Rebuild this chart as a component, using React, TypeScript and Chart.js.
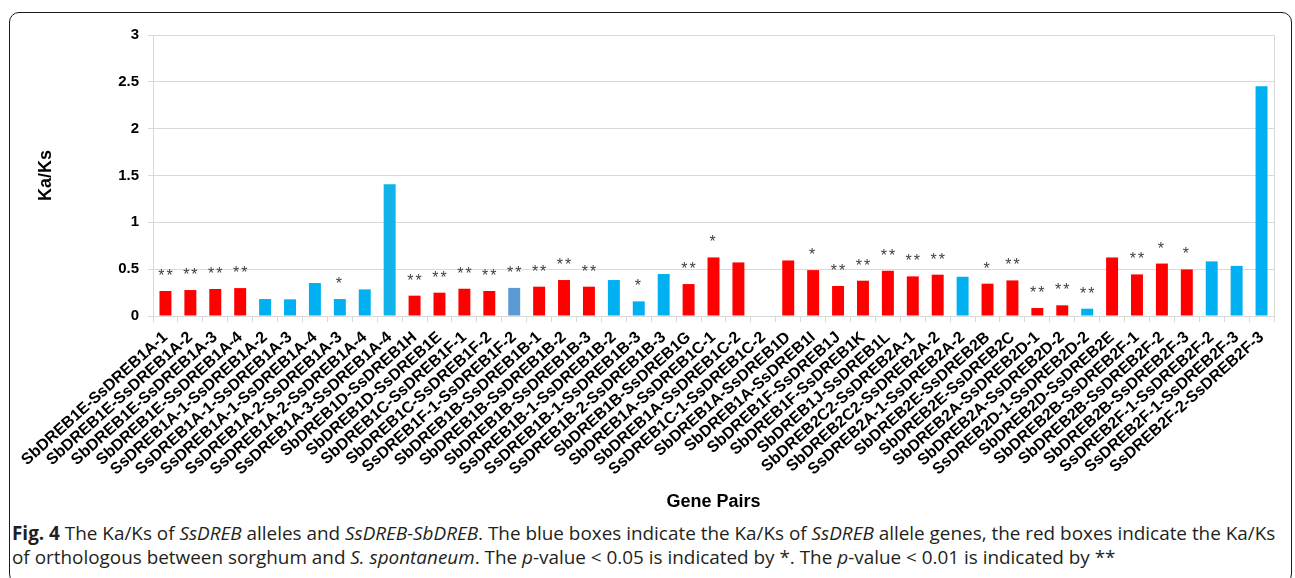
import React, { useEffect, useRef } from "react";
import { Chart, registerables } from "chart.js";

Chart.register(...registerables);

// Gene pairs on the x axis, in plotting order
const genePairs: string[] = [
  "SbDREB1E-SsDREB1A-1",
  "SbDREB1E-SsDREB1A-2",
  "SbDREB1E-SsDREB1A-3",
  "SbDREB1E-SsDREB1A-4",
  "SsDREB1A-1-SsDREB1A-2",
  "SsDREB1A-1-SsDREB1A-3",
  "SsDREB1A-1-SsDREB1A-4",
  "SsDREB1A-2-SsDREB1A-3",
  "SsDREB1A-2-SsDREB1A-4",
  "SsDREB1A-3-SsDREB1A-4",
  "SbDREB1D-SsDREB1H",
  "SbDREB1D-SsDREB1E",
  "SbDREB1C-SsDREB1F-1",
  "SbDREB1C-SsDREB1F-2",
  "SsDREB1F-1-SsDREB1F-2",
  "SbDREB1B-SsDREB1B-1",
  "SbDREB1B-SsDREB1B-2",
  "SbDREB1B-SsDREB1B-3",
  "SsDREB1B-1-SsDREB1B-2",
  "SsDREB1B-1-SsDREB1B-3",
  "SsDREB1B-2-SsDREB1B-3",
  "SbDREB1B-SsDREB1G",
  "SbDREB1A-SsDREB1C-1",
  "SbDREB1A-SsDREB1C-2",
  "SsDREB1C-1-SsDREB1C-2",
  "SbDREB1A-SsDREB1D",
  "SbDREB1A-SsDREB1I",
  "SbDREB1F-SsDREB1J",
  "SbDREB1F-SsDREB1K",
  "SbDREB1J-SsDREB1L",
  "SbDREB2C2-SsDREB2A-1",
  "SbDREB2C2-SsDREB2A-2",
  "SsDREB2A-1-SsDREB2A-2",
  "SbDREB2E-SsDREB2B",
  "SbDREB2E-SsDREB2C",
  "SbDREB2A-SsDREB2D-1",
  "SbDREB2A-SsDREB2D-2",
  "SsDREB2D-1-SsDREB2D-2",
  "SbDREB2D-SsDREB2E",
  "SbDREB2B-SsDREB2F-1",
  "SbDREB2B-SsDREB2F-2",
  "SbDREB2B-SsDREB2F-3",
  "SsDREB2F-1-SsDREB2F-2",
  "SsDREB2F-1-SsDREB2F-3",
  "SsDREB2F-2-SsDREB2F-3",
];

// Ka/Ks ratio of each pair (null: not computed)
const kaKs: (number | null)[] = [
  0.267, 0.277, 0.288, 0.298, 0.181, 0.178, 0.352, 0.181, 0.284, 1.407,
  0.217, 0.249, 0.291, 0.267, 0.3, 0.313, 0.384, 0.313, 0.384, 0.156,
  0.448, 0.341, 0.625, 0.572, null, 0.593, 0.49, 0.32, 0.377, 0.483,
  0.423, 0.441, 0.419, 0.345, 0.38, 0.085, 0.114, 0.078, 0.625, 0.444,
  0.56, 0.497, 0.583, 0.535, 2.452,
];

// "o": orthologous pair between sorghum and S. spontaneum, "a": SsDREB allele pair
const pairType: string[] = [
  "o", "o", "o", "o", "a", "a", "a", "a", "a", "a",
  "o", "o", "o", "o", "a", "o", "o", "o", "a", "a",
  "a", "o", "o", "o", "a", "o", "o", "o", "o", "o",
  "o", "o", "a", "o", "o", "o", "o", "a", "o", "o",
  "o", "o", "a", "a", "a",
];

// Significance marks: "*" p < 0.05, "**" p < 0.01
const significance: string[] = [
  "**", "**", "**", "**", "", "", "", "*", "", "",
  "**", "**", "**", "**", "**", "**", "**", "**", "", "*",
  "", "**", "*", "", "", "", "*", "**", "**", "**",
  "**", "**", "", "*", "**", "**", "**", "**", "", "**",
  "*", "*", "", "", "",
];

const yTickValues: number[] = [0, 0.5, 1, 1.5, 2, 2.5, 3];

const RED = "#FF0000";
const BLUE = "#00B0F0";
const GRID = "#D9D9D9";
const AXIS_FONT = "'Liberation Sans', Arial, Helvetica, sans-serif";

function barColour(i: number): string {
  if (i === 14) return "#5B9BD5";
  if (i === 9) return "#12B3E8";
  return pairType[i] === "o" ? RED : BLUE;
}

// Writes the significance asterisks above each bar
const starLabels = {
  id: "starLabels",
  afterDatasetsDraw(chart: any) {
    const { ctx } = chart;
    const meta = chart.getDatasetMeta(0);
    ctx.save();
    ctx.font = `16px ${AXIS_FONT}`;
    ctx.fillStyle = "#404040";
    ctx.textAlign = "center";
    ctx.textBaseline = "alphabetic";
    try {
      (ctx as any).letterSpacing = "2px";
    } catch (e) {
      /* ignore */
    }
    meta.data.forEach((bar: any, i: number) => {
      const mark = significance[i];
      if (!mark || kaKs[i] == null) return;
      const shift = mark.length > 1 ? 1 : 0;
      ctx.fillText(mark, bar.x + shift, bar.y - 10);
    });
    ctx.restore();
  },
};

function KaKsChart() {
  const canvasRef = useRef<HTMLCanvasElement | null>(null);

  useEffect(() => {
    const canvas = canvasRef.current;
    if (!canvas) return;
    const chart = new Chart(canvas, {
      type: "bar",
      data: {
        labels: genePairs,
        datasets: [
          {
            data: kaKs,
            backgroundColor: kaKs.map((_, i) => barColour(i)),
            borderWidth: 0,
            barPercentage: 0.48,
            categoryPercentage: 1,
          },
        ],
      },
      options: {
        responsive: false,
        animation: false,
        devicePixelRatio: 1,
        layout: { padding: { left: 0, top: 22, right: 16, bottom: 0 } },
        plugins: {
          legend: { display: false },
          tooltip: { enabled: false },
        },
        scales: {
          x: {
            grid: {
              display: true,
              drawOnChartArea: false,
              drawTicks: true,
              tickLength: 6,
              color: GRID,
              offset: true,
            },
            border: { display: true, color: GRID, width: 1 },
            ticks: {
              autoSkip: false,
              maxRotation: 42,
              minRotation: 42,
              padding: 6,
              color: "#000000",
              font: { family: AXIS_FONT, size: 16, weight: "bold" },
            },
            title: {
              display: true,
              text: "Gene Pairs",
              color: "#000000",
              font: { family: AXIS_FONT, size: 18, weight: "bold" },
              padding: { top: 0, bottom: 0 },
            },
            afterFit: (scale: any) => {
              scale.height = 197;
            },
          },
          y: {
            min: 0,
            max: 3,
            afterBuildTicks: (scale: any) => {
              scale.ticks = yTickValues.map((v) => ({ value: v }));
            },
            grid: {
              color: GRID,
              drawTicks: true,
              tickLength: 5,
              lineWidth: 1,
            },
            border: { display: true, color: GRID, width: 1 },
            ticks: {
              padding: 9,
              color: "#000000",
              font: { family: AXIS_FONT, size: 15, weight: "bold" },
              callback: (v: any) => String(v),
            },
            title: {
              display: true,
              text: "Ka/Ks",
              color: "#000000",
              font: { family: AXIS_FONT, size: 18, weight: "bold" },
              padding: { top: 25, bottom: 0 },
            },
            afterFit: (scale: any) => {
              scale.width = 143;
            },
          },
        },
      },
      plugins: [
        starLabels,
        {
          id: "plotFrame",
          afterDraw(c: any) {
            const { ctx, chartArea } = c;
            ctx.save();
            ctx.strokeStyle = GRID;
            ctx.lineWidth = 1;
            ctx.beginPath();
            ctx.moveTo(chartArea.left, chartArea.top + 0.5);
            ctx.lineTo(chartArea.right + 0.5, chartArea.top + 0.5);
            ctx.lineTo(chartArea.right + 0.5, chartArea.bottom);
            ctx.stroke();
            ctx.restore();
          },
        },
      ],
    });
    return () => chart.destroy();
  }, []);

  return (
    <canvas
      ref={canvasRef}
      width={1280}
      height={500}
      style={{ position: "absolute", left: 10, top: 13, width: 1280, height: 500 }}
    />
  );
}

const captionFont = "'Open Sans', 'Noto Sans', 'DejaVu Sans', sans-serif";

export default function App() {
  return (
    <div
      style={{
        position: "fixed",
        inset: 0,
        overflow: "hidden",
        background: "#ffffff",
      }}
    >
      <div
        style={{
          position: "absolute",
          left: 9,
          top: 12,
          width: 1283,
          height: 572,
          border: "1.5px solid #1a1a1a",
          borderRadius: 10,
          boxSizing: "border-box",
        }}
      />
      <KaKsChart />
      <div
        style={{
          position: "absolute",
          left: 12,
          top: 521,
          fontFamily: captionFont,
          fontSize: 18.9,
          lineHeight: "24px",
          color: "#231F20",
          whiteSpace: "nowrap",
        }}
      >
        <div>
          <b>Fig. 4</b> The Ka/Ks of <i>SsDREB</i> alleles and <i>SsDREB-SbDREB</i>. The blue
          boxes indicate the Ka/Ks of <i>SsDREB</i> allele genes, the red boxes indicate the Ka/Ks
        </div>
        <div>
          of orthologous between sorghum and <i>S. spontaneum</i>. The <i>p</i>-value &lt; 0.05 is
          indicated by *. The <i>p</i>-value &lt; 0.01 is indicated by **
        </div>
      </div>
    </div>
  );
}
